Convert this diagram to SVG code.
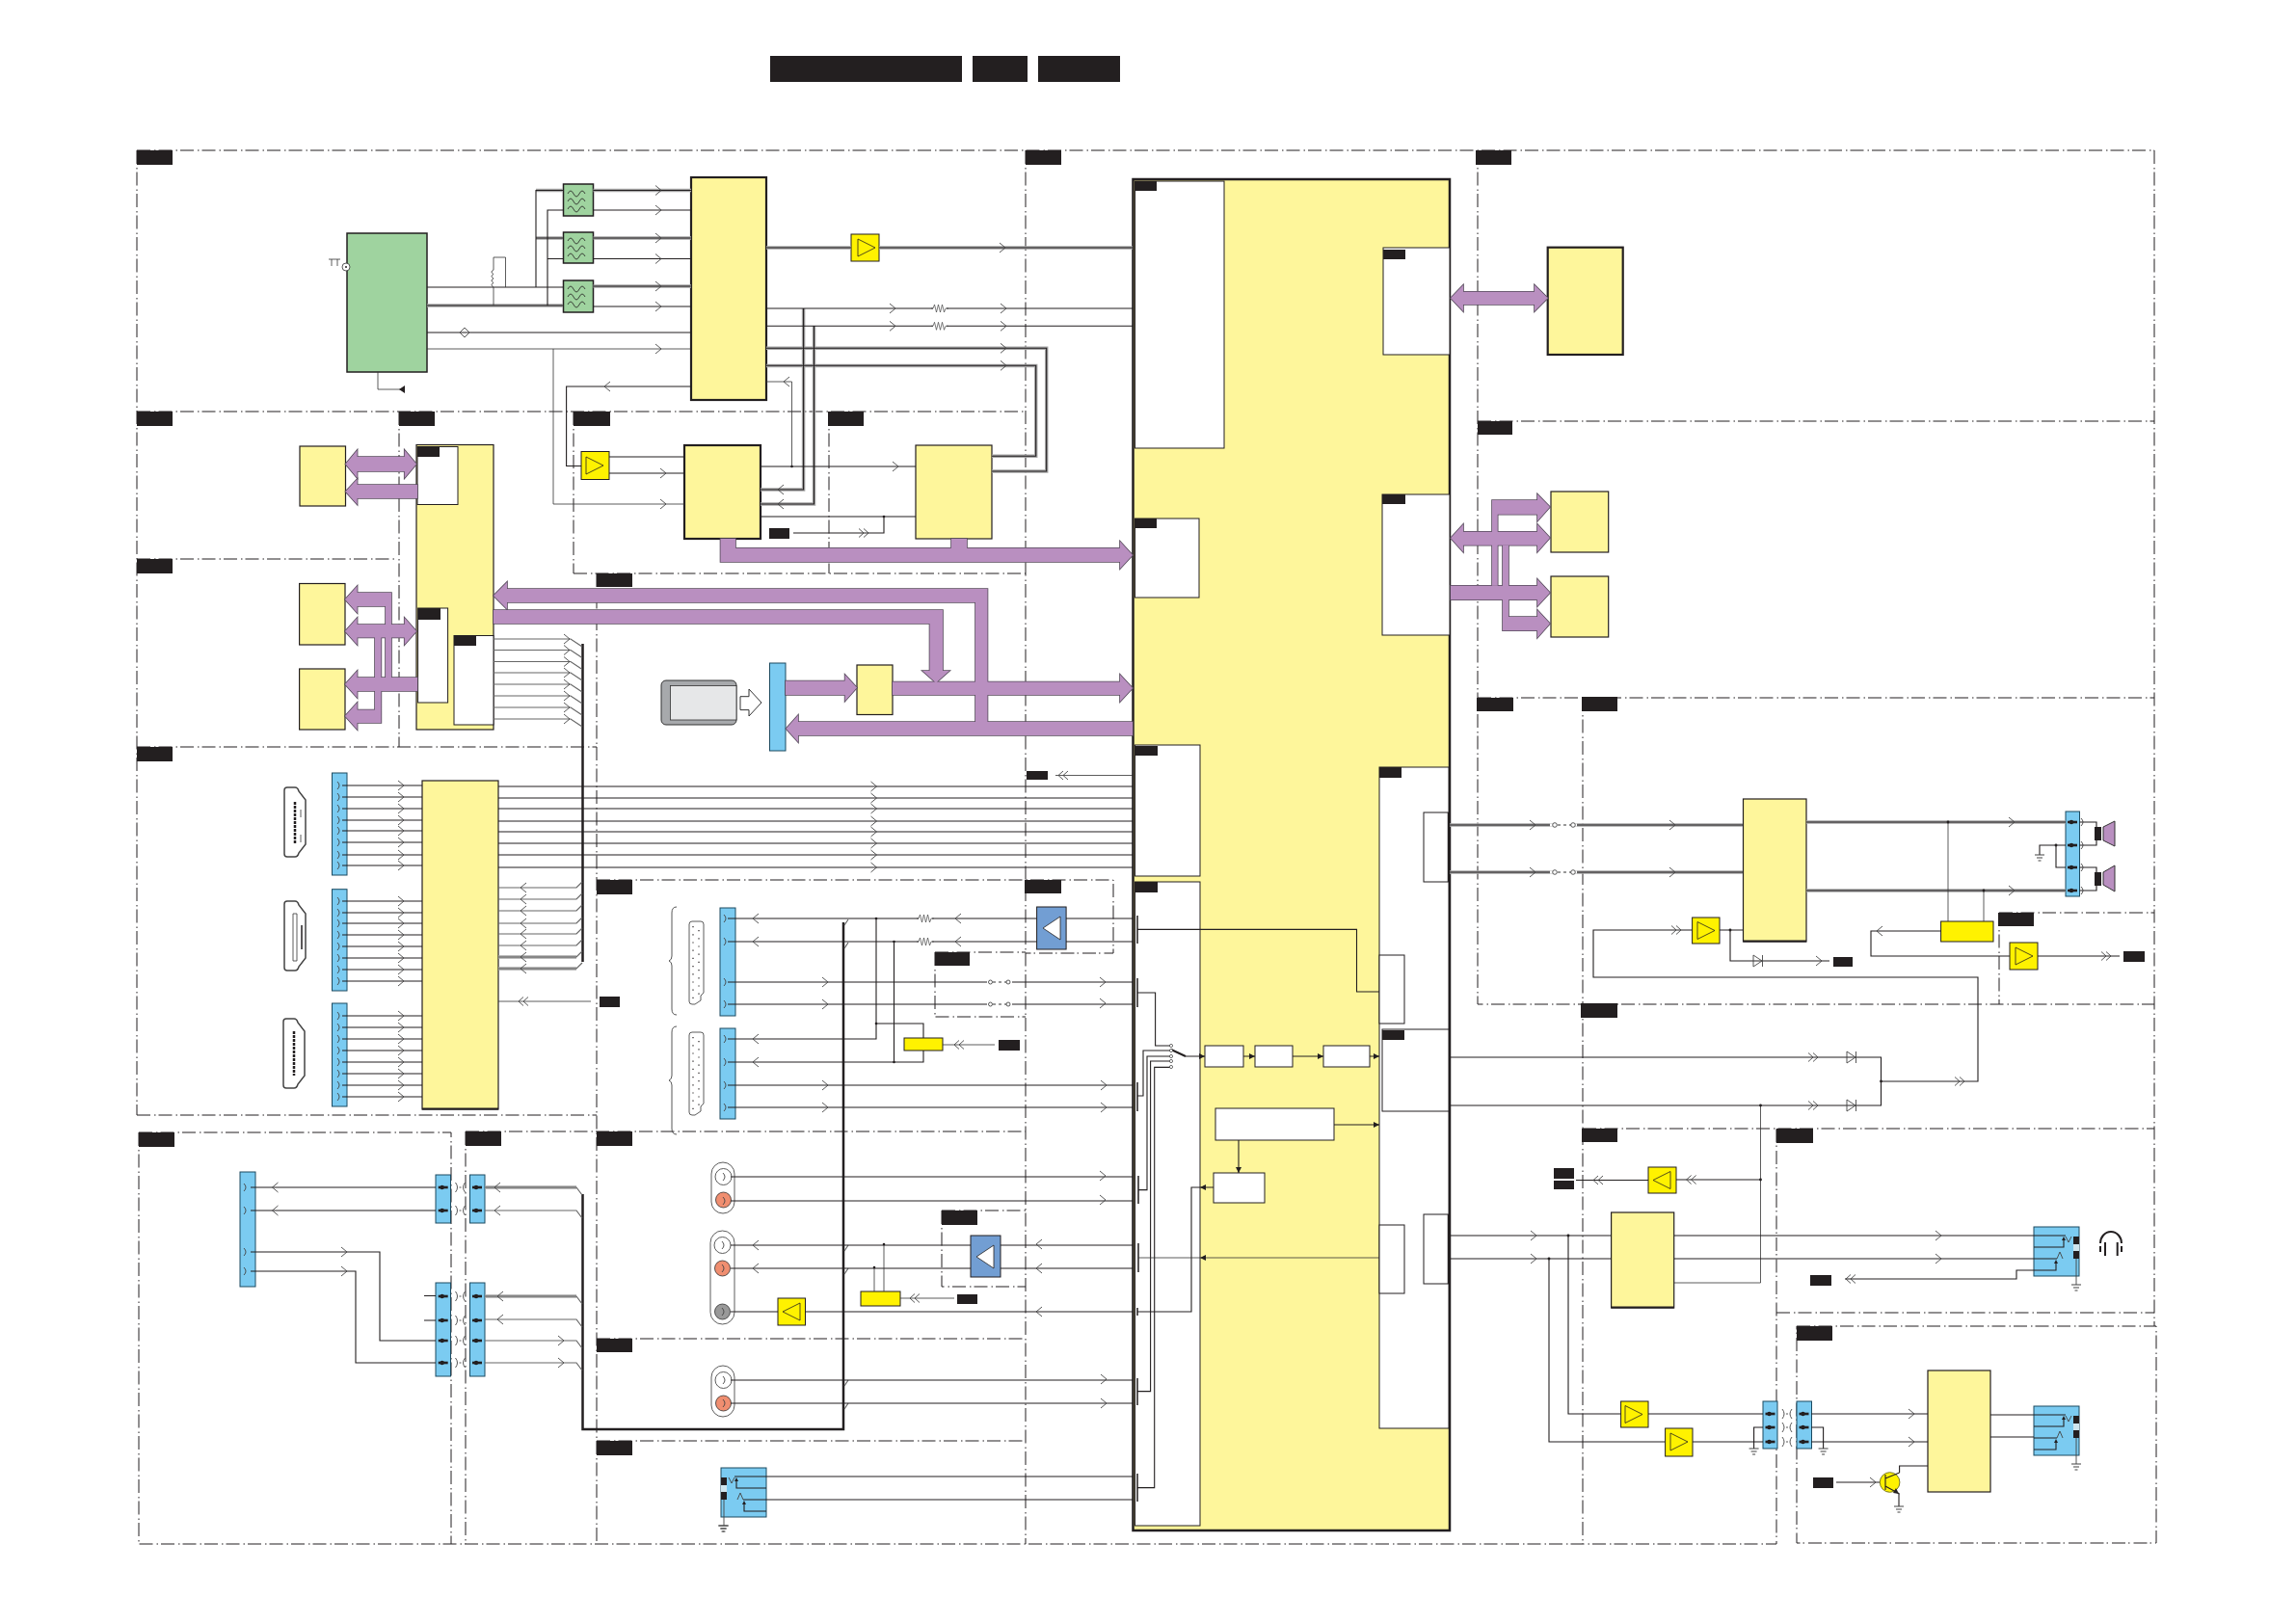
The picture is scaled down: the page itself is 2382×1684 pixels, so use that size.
<svg xmlns="http://www.w3.org/2000/svg" width="2382" height="1684" viewBox="0 0 2382 1684">
<style>
.fr{fill:none;stroke:#231f20;stroke-width:1;stroke-dasharray:14 4 1.5 3}
.l{fill:none;stroke:#231f20;stroke-width:1.1}
.t{fill:none;stroke:#333;stroke-width:.8}
.h{fill:none;stroke:#231f20;stroke-width:2.5}
.tk{fill:none;stroke:#231f20;stroke-width:1.5}
.d{fill:none;stroke:#666;stroke-width:1.2}
.gh{fill:none;stroke:#a6a6a6;stroke-width:3.500}
.k{fill:#231f20}
.y{fill:#fef69b;stroke:#231f20;stroke-width:1.2}
.yb{fill:#fef69b;stroke:#231f20;stroke-width:2.2}
.wb{fill:#fff;stroke:#231f20;stroke-width:1}
.gr{fill:#9fd39f;stroke:#231f20;stroke-width:1.5}
.bl{fill:#7bcbf1;stroke:#1c4a60;stroke-width:1}
.am{fill:#fff200;stroke:#231f20;stroke-width:1}
.ab{fill:#729ed3;stroke:#231f20;stroke-width:1}
.pu{fill:#b98fc0;stroke:#554a5a;stroke-width:1.6}
.pf{fill:#b98fc0;stroke:none}
.m{fill:none;stroke:#444;stroke-width:.9}
.dot{fill:#231f20}
</style>
<defs>
<path id="r" class="m" d="M-4-5L2 0L-4 5"/>
<path id="a" class="m" d="M4-5L-2 0L4 5"/>
<path id="rr" class="m" d="M-6-4.500L-1 0L-6 4.500M-1-4.500L4 0L-1 4.500"/>
<path id="aa" class="m" d="M6-4.500L1 0L6 4.500M1-4.500L-4 0L1 4.500"/>
<g id="res"><rect x="-7" y="-1.500" width="14" height="3" fill="#fff"/><path class="m" style="stroke-width:.7" d="M-9 0H-7L-5.500-4L-3.500 4L-1.500-4L.5 4L2.500-4L4.500 4L6 0H9"/></g>
<path id="dio" class="m" d="M-5-6L4 0L-5 6ZM4.500-6V6"/>
<path id="p" class="m" d="M-2-4Q2 0-2 4"/>
<path id="pa" class="m" d="M-5-5Q-1 0-5 5M5-5Q1 0 5 5M-1 0H1"/>
<g id="pd"><rect class="k" x="-5" y="-1.300" width="10" height="2.600"/><circle class="k" cx="-1" cy="0" r="2.200"/></g>
<path id="gnd" class="m" style="stroke-width:1.2" d="M-5 0H5M-3 3H3M-1.500 6H1.500"/>
<path id="tr" fill="none" stroke="#231f20" stroke-width=".8" d="M0 0L18 9L0 18Z"/>
<path id="tl" fill="none" stroke="#231f20" stroke-width=".8" d="M18 0L0 9L18 18Z"/>
<path id="twl" fill="#fff" stroke="#231f20" stroke-width=".8" d="M18 0L0 12L18 24Z"/>
<path id="wav" fill="none" stroke="#231f20" stroke-width=".8" d="M4 5q3-6 6 0t6 0t6 0M4 13q3-6 6 0t6 0t6 0M4 21q3-6 6 0t6 0t6 0"/>
<g id="hd"><path fill="#fff" stroke="#444" stroke-width="1.500" d="M3 0H11Q14 0 15 4L22 13V59L15 68Q14 72 11 72H3Q0 72 0 69V3Q0 0 3 0Z"/></g>
<g id="sc"><path fill="#fff" stroke="#333" stroke-width=".8" d="M3 0H12Q15 0 15 3V74L12 77V82L6 86H3Q0 86 0 83V3Q0 0 3 0Z"/><path fill="none" stroke="#231f20" stroke-width="1.200" stroke-dasharray="1.200 7" d="M4 5V82M10 9V78"/></g>
<path id="br" class="m" d="M8 0Q3 0 3 6V51Q3 55 0 56Q3 57 3 61V106Q3 112 8 112"/>
<g id="jk"><rect class="bl" x="0" y="0" width="47" height="51"/><rect class="k" x="41" y="10" width="6" height="8"/><rect fill="#cfe6ef" x="41" y="18" width="6" height="7"/><rect class="k" x="41" y="25" width="6" height="8"/><path class="l" d="M0 9H33M0 33H24M0 21H31V13M0 45H23V37"/><path class="k" d="M31 10L33 14H29ZM23 34L25 38H21Z"/><path class="m" d="M33 10L36 16L39 10M24 33L27 26L30 33M44 33V60"/><use href="#gnd" x="44" y="60"/></g>
<path id="rca" fill="none" stroke="#333" stroke-width=".8" d="M12 0A12 12 0 0 1 24 12V41A12 12 0 0 1 0 41V12A12 12 0 0 1 12 0Z"/>
</defs>

<g id="frames">
<path class="fr" d="M142 156H2235M142 156V1157M142 427H1064M142 580H410M414 427V775M142 775H619M142 1157H619M595 427V595M860 427V595M595 595H1064M619 595V1602M1064 156V1602M619 913H1155V989H1064M970 988H1064M970 988V1055H1064M144 1175H468V1602M483 1174H1064M483 1174V1602M619 1389H1064M619 1495H1064M977 1256H1064M977 1256V1335H1064M1533 156V1042H2235M1533 437H2235M1533 724H2235M1642 724V1602M1642 1171H2235M144 1175V1602H1843V1171M1843 1362H2235M1864 1376H2237V1601H1864ZM2235 156V1376M2074 947V1042M2074 947H2235"/>
</g>

<g id="titlebars" class="k">
<rect x="799" y="58" width="199" height="27"/><rect x="1009" y="58" width="57" height="27"/><rect x="1077" y="58" width="85" height="27"/>
</g>

<g id="nodes">
<g id="tuner"><rect class="gr" x="360" y="242" width="83" height="144"/><circle cx="359" cy="277" r="4" fill="#fff" stroke="#333" stroke-width=".8"/><circle class="dot" cx="359" cy="277" r="1"/><path class="t" d="M341 269H353M344 269V276M350 269V276"/></g>
<g id="filter1"><rect class="gr" x="584.500" y="191" width="31" height="33"/><use href="#wav" x="585" y="196"/></g>
<g id="filter2"><rect class="gr" x="584.500" y="241" width="31" height="32"/><use href="#wav" x="585" y="245"/></g>
<g id="filter3"><rect class="gr" x="584.500" y="291" width="31" height="33"/><use href="#wav" x="585" y="295"/></g>
<g id="if-chip"><rect class="yb" x="717" y="184" width="78" height="231"/></g>
<g id="amp1"><rect class="am" x="883" y="243" width="29" height="28"/><use href="#tr" x="890" y="248"/></g>
<g id="amp2"><rect class="am" x="603" y="468.500" width="29" height="29"/><use href="#tr" x="608" y="474"/></g>
<g id="dem1"><rect class="yb" x="710" y="462" width="79" height="97"/></g>
<g id="dem2"><rect class="y" x="950" y="462" width="79" height="97"/></g>
<g id="mem1"><rect class="y" x="311" y="463" width="47.500" height="62"/></g>
<g id="mem2"><rect class="y" x="310.600" y="605.500" width="47.400" height="63.500"/></g>
<g id="mem3"><rect class="y" x="310.600" y="694" width="47.400" height="63"/></g>
<g id="proc"><rect class="y" x="432" y="461.500" width="80" height="295.500"/>
<rect class="wb" x="433" y="463.500" width="42" height="60"/><rect class="wb" x="433.600" y="631" width="31" height="98"/><rect class="wb" x="471" y="659.500" width="41" height="92.500"/>
<rect class="k" x="433" y="463.500" width="23" height="10.500"/><rect class="k" x="434" y="631" width="23" height="12"/><rect class="k" x="471" y="659" width="23" height="11"/></g>
<g id="card"><rect x="686" y="706" width="78" height="46" rx="5" fill="#a7a9ac" stroke="#333"/><rect x="695.500" y="711.600" width="68.500" height="35.400" fill="#e6e7e8" stroke="#333" stroke-width=".8"/></g>
<path id="card-arrow" fill="#fff" stroke="#333" d="M768 722.700H777V715L790 729L777 743V736.600H768Z"/>
<g id="ci-bar"><rect class="bl" x="798.500" y="688" width="16.500" height="91"/></g>
<g id="ci-chip"><rect class="y" x="889" y="690" width="37" height="51.500"/></g>
<g id="hdmi-conn">
<use href="#hd" x="295" y="817"/><path stroke="#231f20" stroke-width="2.500" stroke-dasharray="3 1" d="M306 832V876"/><path class="t" d="M312 840V848M312 866V874"/>
<use href="#hd" x="295" y="935"/><path class="t" d="M304 948H308V997H304Z"/><path stroke="#231f20" stroke-width="1.500" d="M313 960V985"/>
<use href="#hd" x="294" y="1057"/><path stroke="#231f20" stroke-width="2.500" stroke-dasharray="3 1" d="M305 1070V1116"/>
<rect class="bl" x="344.500" y="802" width="15.500" height="106"/><rect class="bl" x="344.500" y="922.700" width="15.500" height="105.300"/><rect class="bl" x="344.500" y="1041" width="15.500" height="107"/></g>
<g id="hdmi-mux"><rect class="y" x="438" y="810" width="79" height="341"/><rect class="k" x="438" y="1149.500" width="79" height="2"/></g>
<g id="scart"><use href="#sc" x="715" y="956"/><use href="#sc" x="715" y="1071"/><use href="#br" x="694" y="941"/><use href="#br" x="694" y="1059" transform="translate(0 6)"/><rect class="bl" x="747" y="942" width="16" height="112"/><rect class="bl" x="747" y="1067" width="16" height="94"/></g>
<g id="sw1"><rect class="am" x="938" y="1077" width="40" height="13"/></g>
<g id="sw2"><rect class="am" x="893" y="1340" width="41" height="15"/></g>
<g id="sw3"><rect class="am" x="2013.600" y="956" width="54.400" height="21"/></g>
<g id="ampb1"><rect class="ab" x="1075.600" y="941" width="30.500" height="44"/><use href="#twl" x="1082" y="951"/></g>
<g id="ampb2"><rect class="ab" x="1007" y="1282" width="31" height="43"/><use href="#twl" x="1013" y="1292"/></g>
<g id="amp3"><rect class="am" x="807" y="1347" width="28.500" height="28"/><use href="#tl" x="812" y="1352"/></g>
<g id="rca-panel"><use href="#rca" x="738" y="1206"/><circle cx="750.500" cy="1221" r="8.500" fill="#fff" stroke="#333" stroke-width=".8"/><circle cx="750.500" cy="1245" r="8" fill="#f08e70" stroke="#333" stroke-width=".8"/>
<rect x="737" y="1277" width="25" height="97" rx="12.500" fill="none" stroke="#333" stroke-width=".8"/><circle cx="749.500" cy="1292" r="8.500" fill="#fff" stroke="#333" stroke-width=".8"/><circle cx="749.500" cy="1316" r="8" fill="#f08e70" stroke="#333" stroke-width=".8"/><circle cx="749.500" cy="1361" r="8" fill="#999" stroke="#333" stroke-width=".8"/>
<use href="#rca" x="738" y="1417"/><circle cx="750.500" cy="1432" r="8.500" fill="#fff" stroke="#333" stroke-width=".8"/><circle cx="750.500" cy="1456" r="8" fill="#f08e70" stroke="#333" stroke-width=".8"/></g>
<g id="av-jack"><use href="#jk" transform="translate(795 1523) scale(-1 1)"/></g>
<g id="side-conn"><rect class="bl" x="249" y="1216" width="16" height="119"/><rect class="bl" x="452" y="1219" width="15.500" height="50"/><rect class="bl" x="487.500" y="1219" width="15.500" height="50"/><rect class="bl" x="452" y="1331" width="15.500" height="97"/><rect class="bl" x="487.500" y="1331" width="15.500" height="97"/></g>
<g id="main-chip">
<rect x="1175.500" y="186" width="328.500" height="1402" fill="#fef69b" stroke="#231f20" stroke-width="2.500"/>
<rect class="wb" x="1177.500" y="188" width="92.500" height="277"/><rect class="wb" x="1177.500" y="538" width="66.500" height="82"/><rect class="wb" x="1177.500" y="773" width="67.500" height="136"/><rect class="wb" x="1177.500" y="915" width="67.500" height="668"/>
<rect class="wb" x="1435" y="257" width="69" height="111"/><rect class="wb" x="1434" y="513" width="70" height="146"/><rect class="wb" x="1431" y="796" width="72" height="686"/>
<rect class="wb" x="1477" y="843" width="26" height="72"/><rect class="wb" x="1431" y="991" width="26" height="71"/><rect class="wb" x="1434" y="1068" width="69" height="85"/><rect class="wb" x="1431" y="1271" width="26" height="71"/><rect class="wb" x="1477" y="1260" width="26" height="72"/>
<rect class="wb" x="1250" y="1085" width="40" height="22"/><rect class="wb" x="1302" y="1085" width="39" height="22"/><rect class="wb" x="1373" y="1085" width="48" height="22"/><rect class="wb" x="1261" y="1150" width="123" height="33"/><rect class="wb" x="1259" y="1217" width="53" height="31"/>
<path class="h" d="M1503 843V915M1503 1260V1332"/>
<g class="k"><rect x="1177" y="188" width="23" height="10"/><rect x="1177" y="538" width="23" height="10"/><rect x="1177" y="774" width="24" height="10"/><rect x="1177" y="915" width="24" height="11"/><rect x="1435" y="259" width="23" height="10"/><rect x="1434" y="513" width="24" height="10"/><rect x="1431" y="796" width="23" height="11"/><rect x="1434" y="1069" width="23" height="10"/></g></g>
<g id="flash"><rect class="yb" x="1605.700" y="256.700" width="78" height="111.300"/></g>
<g id="ddr1"><rect class="y" x="1609" y="510" width="59.700" height="63"/></g>
<g id="ddr2"><rect class="y" x="1609" y="598" width="59.700" height="63"/></g>
<g id="audio-amp"><rect class="y" x="1808.500" y="829" width="65.500" height="148"/><rect class="k" x="1808.500" y="975.500" width="65.500" height="2"/></g>
<g id="amp4"><rect class="am" x="1755.600" y="952" width="28.400" height="27"/><use href="#tr" x="1761" y="956.500"/></g>
<g id="amp5"><rect class="am" x="2085" y="978" width="29" height="28"/><use href="#tr" x="2091" y="983"/></g>
<g id="spk-conn"><rect class="bl" x="2143" y="842" width="14.500" height="88"/><rect class="k" x="2173" y="858" width="7" height="14"/><path fill="#b98fc0" stroke="#333" d="M2182 858L2194 852V878L2182 872Z"/><rect class="k" x="2173" y="905" width="7" height="14"/><path fill="#b98fc0" stroke="#333" d="M2182 905L2194 898V925L2182 918Z"/></g>
<g id="amp6"><rect class="am" x="1710" y="1211" width="29" height="27"/><use href="#tl" x="1715" y="1215.500"/></g>
<g id="hp-amp"><rect class="y" x="1671.600" y="1258" width="65.100" height="99"/><rect class="k" x="1671.600" y="1355.500" width="65.100" height="2"/></g>
<g id="amp7"><rect class="am" x="1681.600" y="1454" width="28.400" height="27"/><use href="#tr" x="1686" y="1458.500"/></g>
<g id="amp8"><rect class="am" x="1727.600" y="1482" width="28.400" height="29"/><use href="#tr" x="1733" y="1487"/></g>
<g id="hp-jack"><use href="#jk" x="2110" y="1273"/><path fill="none" stroke="#231f20" stroke-width="2" d="M2179 1290A11 12 0 0 1 2201 1290"/><path stroke="#231f20" stroke-width="2" d="M2179 1293V1299M2184 1289V1303M2196.700 1289V1303M2201 1293V1299"/></g>
<g id="aux-conn"><rect class="bl" x="1829" y="1454" width="15" height="49"/><rect class="bl" x="1864" y="1454" width="15.500" height="49"/></g>
<g id="aux-amp"><rect class="y" x="2000" y="1422" width="65" height="126"/></g>
<g id="aux-jack"><use href="#jk" x="2110" y="1459"/></g>
<g id="transistor"><circle cx="1960.600" cy="1538" r="10.300" fill="#fff200" stroke="#7a7a20"/><path class="l" d="M1956 1530V1546M1956 1534L1970.600 1528M1956 1542L1970.600 1550"/><path class="k" d="M1970 1550L1964 1549L1967 1544Z"/></g>
</g>

<g id="labels" class="k">
<rect x="142" y="156" width="37" height="15"/><rect x="1064" y="156" width="37" height="15"/><rect x="1531" y="156" width="37" height="15"/><rect x="1533" y="437" width="36" height="14"/><rect x="142" y="427" width="37" height="15"/><rect x="414" y="427" width="37" height="15"/><rect x="595" y="427" width="38" height="15"/><rect x="859" y="427" width="37" height="15"/><rect x="142" y="580" width="37" height="15"/><rect x="142" y="775" width="37" height="15"/><rect x="619" y="595" width="37" height="14"/><rect x="619" y="913" width="37" height="15"/><rect x="1063" y="913" width="38" height="14"/><rect x="970" y="988" width="36" height="14"/><rect x="144" y="1175" width="37" height="15"/><rect x="483" y="1174" width="37" height="15"/><rect x="619" y="1174" width="37" height="15"/><rect x="619" y="1389" width="37" height="14"/><rect x="619" y="1495" width="37" height="15"/><rect x="977" y="1256" width="37" height="15"/><rect x="1532" y="724" width="38" height="14"/><rect x="1641" y="723" width="37" height="15"/><rect x="1640" y="1041" width="38" height="15"/><rect x="1641" y="1171" width="37" height="14"/><rect x="1843" y="1171" width="38" height="15"/><rect x="1864" y="1376" width="37" height="15"/><rect x="2073" y="947" width="37" height="14"/>
<rect x="798" y="548" width="21" height="11"/><rect x="622" y="1034" width="21" height="11"/><rect x="1036" y="1079" width="22" height="11"/><rect x="993" y="1343" width="21" height="10"/><rect x="1065" y="800" width="22" height="9"/><rect x="1612" y="1212" width="21" height="11"/><rect x="1612" y="1225" width="21" height="9"/><rect x="1878" y="1323" width="22" height="11"/><rect x="1881" y="1533" width="21" height="11"/><rect x="1902" y="993" width="20" height="10"/><rect x="2203" y="987" width="22" height="11"/>
</g>

<g id="connectors">
<g id="buses">
<defs>
<g id="pur">
<path d="M358.500 481.500L370.600 467V474H419.700V467L432 481.500L419.700 496V489H370.600V496Z"/>
<path d="M358.500 510L370.600 497V503H433V517H370.600V523.500Z"/>
<path d="M358 655L370.600 641V648H419.700V641L432 655L419.700 669V661.500H370.600V669Z"/>
<path d="M358 622L370.600 608V615H406V704H400V629H370.600V636Z"/>
<path d="M358 710L370.600 696V703H433V717H370.600V724Z"/>
<path d="M358 743L370.600 729V736.500H389V661H395.400V750H370.600V757Z"/>
<path d="M512 618L526 604V611H1024.500V749H1175V763H828V770L815.500 756L828 742V749H1012V625H526V632Z"/>
<path d="M512 633H978V696H985L971 708.500L957 696H964.500V647H512Z"/>
<path d="M815 706.600H876.600V700L889 713.500L876.600 727.500V721H815Z"/>
<path d="M926 707.500H1162V700L1175 714L1162 728V721H926Z"/>
<path d="M747.500 559H763V568.700H987V559H1003V568.700H1162V561.700L1175 576L1162 590V583H747.500Z"/>
<path d="M1505 309.300L1518 295.700V302.700H1592V295.700L1605.700 309.300L1592 323V316H1518V323Z"/>
<path d="M1548 607.700V519H1595V512.700L1608 526L1595 540.700V533.700H1553.700V607.700Z"/>
<path d="M1505 558.300L1518 544V551.700H1595V544L1608 558L1595 572.700V565.700H1518V572.700Z"/>
<path d="M1505 607.700H1595V601L1608 615L1595 629V622.300H1505Z"/>
<path d="M1608 647L1595 633V640H1565V565.700H1559V654.300H1595V661.700Z"/>
</g>
</defs>
<use href="#pur" class="pu"/><use href="#pur" class="pf"/>
</g>

<path class="gh" d="M443 317H584M556 197.500H584M556 247H584M615.500 197.500H717M615.500 247H717M615.500 297H717M795 257H883M912 257H1175M795 379.500H1074.700V473.300H1029M795 361.300H1085.700V489H1029M789 508H833.600V320M789 523H844.500V338M598 993H517M598 1005H517M1504 856H1613M1632 856H1808M1504 905H1613M1632 905H1808M1874 853H2143M1874 924H2143M503 1232H598M503 1345H598"/>
<path class="l" d="M443 298H584M443 317H584M556 298V197.500H584.500M556 247H584.500M568 317V218H584.500M568 268.500H584.500M568 317H584M615.500 197.500H717M615.500 218H717M615.500 247H717M615.500 268.500H717M615.500 297H717M615.500 318H717M443 345H717M795 257H883M912 257H1175M795 320H1175M795 338.300H1175M795 361.300H1085.700V489H1029M795 379.300H1074.700V473.300H1029M717 401H587.600V483.500H603M632 474H710M632 491H710M789 484H950M789 536H950M917 536V553H823M789 508H833.600V320M789 523H844.500V338"/>
<path class="t" d="M443 362H717M574 362V523H710M524.500 267V298M512 267H524.500M512 267V280M512 298V317M795 396H821.500V484M392 386V404H420"/>
<path class="m" d="M512 280q-4 2 0 4.500q-4 2 0 4.500q-4 2 0 4.500q-4 2 0 4.500"/>
<path class="k" d="M414 404L420 400V408Z"/>
<path class="m" d="M477 345L482 340L487 345L482 350Z"/>

<use href="#r" x="684" y="197.500"/><use href="#r" x="684" y="218"/><use href="#r" x="684" y="247"/><use href="#r" x="684" y="268.500"/><use href="#r" x="684" y="297"/><use href="#r" x="684" y="318"/><use href="#r" x="684" y="362"/><use href="#r" x="1041" y="257"/>
<use href="#r" x="927" y="320"/><use href="#r" x="927" y="338.300"/><use href="#res" x="975" y="320"/><use href="#res" x="975" y="338.300"/><use href="#r" x="1042" y="320"/><use href="#r" x="1042" y="338.300"/><use href="#r" x="1042" y="361.300"/><use href="#r" x="1042" y="379.300"/>
<use href="#a" x="815" y="396"/><use href="#a" x="629" y="401"/><use href="#r" x="689" y="491"/><use href="#r" x="689" y="523"/><use href="#r" x="930" y="484"/><use href="#a" x="809" y="508"/><use href="#a" x="809" y="523"/><use href="#rr" x="897" y="553"/>
<circle class="dot" cx="821.500" cy="484" r="1.300"/><circle class="dot" cx="917" cy="536" r="1.300"/>

<g id="bus-wires">
<path class="h" d="M604.500 668V998M604.500 1239V1483H875V957"/>
<path class="d" d="M512 663H592L604 671M512 674.500H592L604 682.500M512 686.500H592L604 694.500M512 698H592L604 706M512 710H592L604 718M512 722H592L604 730M512 734H592L604 742M512 746H592L604 754M517 921H598L604 915M517 933H598L604 927M517 945H598L604 939M517 958H598L604 952M517 969H598L604 963M517 981H598L604 975M517 993H598L604 987M517 1005H598L604 999M503 1232H598L604 1240M503 1256H598L604 1264M503 1345H598L604 1353M503 1369H598L604 1377M503 1391H598L604 1399M503 1414H598L604 1422M876 960L880 954M876 984L880 978M876 1298L880 1292M876 1322L880 1316M876 1438L880 1432M876 1462L880 1456"/>
</g>
<use href="#r" x="589" y="663"/><use href="#r" x="589" y="674.500"/><use href="#r" x="589" y="686.500"/><use href="#r" x="589" y="698"/><use href="#r" x="589" y="710"/><use href="#r" x="589" y="722"/><use href="#r" x="589" y="734"/><use href="#r" x="589" y="746"/>

<g id="hdmi-wires">
<path class="l" d="M355 815H438M355 827H438M355 839H438M355 851H438M355 862H438M355 874H438M355 887H438M355 898H438M355 935H438M355 947H438M355 958H438M355 970H438M355 982H438M355 994H438M355 1006H438M355 1018H438M355 1054H438M355 1066H438M355 1078H438M355 1090H438M355 1102H438M355 1114H438M355 1126H438M355 1138H438M517 816H1175M517 828H1175M517 839H1175M517 852H1175M517 863H1175M517 875H1175M517 887H1175M517 900H1175"/>
<path class="t" d="M517 1039H613M1095 804.500H1175"/>
</g>
<g id="hdmi-marks">
<use href="#r" x="417" y="815"/><use href="#r" x="417" y="827"/><use href="#r" x="417" y="839"/><use href="#r" x="417" y="851"/><use href="#r" x="417" y="862"/><use href="#r" x="417" y="874"/><use href="#r" x="417" y="887"/><use href="#r" x="417" y="898"/>
<use href="#r" x="417" y="935"/><use href="#r" x="417" y="947"/><use href="#r" x="417" y="958"/><use href="#r" x="417" y="970"/><use href="#r" x="417" y="982"/><use href="#r" x="417" y="994"/><use href="#r" x="417" y="1006"/><use href="#r" x="417" y="1018"/>
<use href="#r" x="417" y="1054"/><use href="#r" x="417" y="1066"/><use href="#r" x="417" y="1078"/><use href="#r" x="417" y="1090"/><use href="#r" x="417" y="1102"/><use href="#r" x="417" y="1114"/><use href="#r" x="417" y="1126"/><use href="#r" x="417" y="1138"/>
<use href="#r" x="907.500" y="816"/><use href="#r" x="907.500" y="828"/><use href="#r" x="907.500" y="839"/><use href="#r" x="907.500" y="852"/><use href="#r" x="907.500" y="863"/><use href="#r" x="907.500" y="875"/><use href="#r" x="907.500" y="887"/><use href="#r" x="907.500" y="900"/>
<use href="#a" x="542" y="921"/><use href="#a" x="542" y="933"/><use href="#a" x="542" y="945"/><use href="#a" x="542" y="958"/><use href="#a" x="542" y="969"/><use href="#a" x="542" y="981"/><use href="#a" x="542" y="993"/><use href="#a" x="542" y="1005"/>
<use href="#aa" x="542" y="1039"/><use href="#aa" x="1102" y="804.500"/>
<use href="#p" x="352" y="815"/><use href="#p" x="352" y="827"/><use href="#p" x="352" y="839"/><use href="#p" x="352" y="851"/><use href="#p" x="352" y="862"/><use href="#p" x="352" y="874"/><use href="#p" x="352" y="887"/><use href="#p" x="352" y="898"/>
<use href="#p" x="352" y="935"/><use href="#p" x="352" y="947"/><use href="#p" x="352" y="958"/><use href="#p" x="352" y="970"/><use href="#p" x="352" y="982"/><use href="#p" x="352" y="994"/><use href="#p" x="352" y="1006"/><use href="#p" x="352" y="1018"/>
<use href="#p" x="352" y="1054"/><use href="#p" x="352" y="1066"/><use href="#p" x="352" y="1078"/><use href="#p" x="352" y="1090"/><use href="#p" x="352" y="1102"/><use href="#p" x="352" y="1114"/><use href="#p" x="352" y="1126"/><use href="#p" x="352" y="1138"/>
</g>

<g id="scart-wires">
<path class="l" d="M755 953H1075.600M1106 953H1175M755 977H1075.600M1106 977H1175M755 1019H1175M755 1042H1175M755 1078H909V953M909 1062H958V1077M755 1102H958V1090M927.500 977V1102M755 1126H1175M755 1149H1175M758 1221H1175M758 1246H1175M758 1292H1007M1038 1292H1175M758 1316H1007M1038 1316H1175M758 1361H807M835.500 1361H1175M758 1432H1175M758 1456H1175M795 1532H1175M795 1556H1175"/>
<path class="t" d="M978 1084H1032M934 1347H990M917 1291V1340M907 1315V1340"/>
<path d="M1024 1019H1050M1024 1042H1050" stroke="#fff" stroke-width="3"/>
<path d="M1030 1019H1044M1030 1042H1044" stroke="#333" stroke-width="1" stroke-dasharray="3 3"/>
<circle cx="1027.500" cy="1019" r="2" fill="#fff" stroke="#333" stroke-width=".8"/><circle cx="1046" cy="1019" r="2" fill="#fff" stroke="#333" stroke-width=".8"/><circle cx="1027.500" cy="1042" r="2" fill="#fff" stroke="#333" stroke-width=".8"/><circle cx="1046" cy="1042" r="2" fill="#fff" stroke="#333" stroke-width=".8"/>
<use href="#a" x="783" y="953"/><use href="#a" x="783" y="977"/><use href="#a" x="783" y="1078"/><use href="#a" x="783" y="1102"/><use href="#r" x="857" y="1019"/><use href="#r" x="857" y="1042"/><use href="#r" x="857" y="1126"/><use href="#r" x="857" y="1149"/>
<use href="#res" x="960" y="953"/><use href="#res" x="960" y="977"/><use href="#a" x="993" y="953"/><use href="#a" x="993" y="977"/><use href="#aa" x="994" y="1084"/><use href="#aa" x="948" y="1347"/>
<use href="#r" x="1145" y="1019"/><use href="#r" x="1145" y="1041"/><use href="#r" x="1146" y="1126"/><use href="#r" x="1146" y="1149"/><use href="#r" x="1145" y="1220"/><use href="#r" x="1145" y="1245"/><use href="#a" x="1077" y="1291"/><use href="#a" x="1077" y="1316"/><use href="#a" x="1077" y="1361"/><use href="#r" x="1146" y="1431"/><use href="#r" x="1146" y="1456"/>
<use href="#a" x="783" y="1292"/><use href="#a" x="783" y="1316"/>
<use href="#p" x="753" y="953"/><use href="#p" x="753" y="977"/><use href="#p" x="753" y="1019"/><use href="#p" x="753" y="1042"/><use href="#p" x="753" y="1078"/><use href="#p" x="753" y="1102"/><use href="#p" x="753" y="1126"/><use href="#p" x="753" y="1149"/>
<circle class="dot" cx="909" cy="953" r="1.300"/><circle class="dot" cx="927.500" cy="977" r="1.300"/><circle class="dot" cx="909" cy="1062" r="1.300"/><circle class="dot" cx="927.500" cy="1102" r="1.300"/><circle class="dot" cx="917" cy="1291" r="1.300"/><circle class="dot" cx="907" cy="1315" r="1.300"/>
<use href="#gnd" x="750" y="1583"/><use href="#p" x="752" y="1221"/><use href="#p" x="752" y="1246"/><use href="#p" x="751" y="1292"/><use href="#p" x="751" y="1316"/><use href="#p" x="751" y="1361"/><use href="#p" x="752" y="1432"/><use href="#p" x="752" y="1456"/>
</g>

<g id="side-wires">
<path class="l" d="M260 1232H452M260 1256H452M260 1299H394V1391H452M260 1319H369V1414H452M440 1344.500H452M440 1370H452"/>
<use href="#a" x="284.500" y="1232"/><use href="#a" x="284.500" y="1256"/><use href="#r" x="358" y="1299"/><use href="#r" x="358" y="1319"/>
<use href="#p" x="255" y="1232"/><use href="#p" x="255" y="1256"/><use href="#p" x="255" y="1299"/><use href="#p" x="255" y="1319"/>
<use href="#pd" x="459.700" y="1232"/><use href="#pd" x="459.700" y="1256"/><use href="#pd" x="459.700" y="1345"/><use href="#pd" x="459.700" y="1370"/><use href="#pd" x="459.700" y="1391"/><use href="#pd" x="459.700" y="1414"/>
<use href="#pd" x="495" y="1232"/><use href="#pd" x="495" y="1256"/><use href="#pd" x="495" y="1345"/><use href="#pd" x="495" y="1370"/><use href="#pd" x="495" y="1391"/><use href="#pd" x="495" y="1414"/>
<use href="#pa" x="477.500" y="1232"/><use href="#pa" x="477.500" y="1256"/><use href="#pa" x="477.500" y="1345"/><use href="#pa" x="477.500" y="1370"/><use href="#pa" x="477.500" y="1391"/><use href="#pa" x="477.500" y="1414"/>
<use href="#a" x="515" y="1232"/><use href="#a" x="515" y="1256"/><use href="#a" x="518" y="1345"/><use href="#a" x="518" y="1369"/><use href="#r" x="583" y="1391"/><use href="#r" x="583" y="1414"/>
</g>

<g id="chip-wires">
<path class="tk" d="M1180 950V979M1180 1015V1045M1180 1123V1153M1181 1220V1249M1181 1290V1320M1180 1357V1365M1180 1430V1458M1180 1529V1558"/>
<path class="l" d="M1180 964.400H1407.500V1029H1431M1180 1030H1198.600V1085H1215M1180 1137H1186V1090H1215M1181 1234.600H1190V1096H1215M1180 1443.600H1193.600V1101H1215M1180 1543.600H1197.700V1107.400H1215M1230 1096H1250M1290 1096H1302M1341 1096H1373M1421 1096H1431M1384 1167H1431M1285 1183V1217M1259 1232H1236V1361H1180"/>
<path class="t" d="M1431 1305H1181"/>
<path stroke="#231f20" stroke-width="2" d="M1215 1089L1230 1096"/>
<g fill="#fff" stroke="#333" stroke-width=".7"><circle cx="1215" cy="1085" r="1.600"/><circle cx="1215" cy="1090" r="1.600"/><circle cx="1215" cy="1096" r="1.600"/><circle cx="1215" cy="1101" r="1.600"/><circle cx="1215" cy="1107" r="1.600"/></g>
<g class="k"><path d="M1250 1096L1244 1093V1099ZM1302 1096L1296 1093V1099ZM1373 1096L1367 1093V1099ZM1431 1096L1425 1093V1099ZM1431 1167L1425 1164V1170ZM1285 1217L1282 1211H1288ZM1245 1232L1251 1229V1235ZM1245 1305L1251 1302V1308Z"/></g>
</g>

<g id="audio-wires">
<path class="l" d="M1504 856H1613M1632 856H1808.500M1504 905H1613M1632 905H1808.500M1874 853H2143M1874 924H2143M1504 1097H1951.500V1147H1504M1951.500 1122H2052V1014H1653V965H1755.600M1784 965H1808.500M1795 965V997H1898M2014 966H1941V992H2085M2114 992H2199M2157.500 853H2175V877H2157.500M2157.500 900H2175V924H2157.500M2143 877H2116V887M2133 877V900H2143"/>
<path class="t" d="M2021 853V956M2058 924V956M1826.500 1147V1331H1737"/>
<path class="l" d="M1504 1282H1671.600M1737 1282H2110M1504 1306H1671.600M1737 1306H2110M1627 1282V1467H1681.600M1607 1306V1496H1727.600M1710 1467H1829M1756 1496H1829M1739 1224H1826.500M1710 1224.500H1635M1879 1467H2000M1879 1496H2000M2065 1468H2110M2065 1491H2110M1829 1481H1819.600V1503M1879 1481H1891.600V1503M1914 1327H2092V1318H2110M1905 1538H1950M1970.600 1528V1521H2000M1970 1550V1563"/>
<use href="#gnd" x="2116" y="887"/><use href="#gnd" x="1819.600" y="1503"/><use href="#gnd" x="1891.600" y="1503"/><use href="#gnd" x="1970" y="1563"/>
<path d="M1608 856H1636M1608 905H1636" stroke="#fff" stroke-width="3"/>
<path d="M1616 856H1630M1616 905H1630" stroke="#333" stroke-width="1" stroke-dasharray="3 3"/>
<g fill="#fff" stroke="#333" stroke-width=".8"><circle cx="1613" cy="856" r="2.300"/><circle cx="1632" cy="856" r="2.300"/><circle cx="1613" cy="905" r="2.300"/><circle cx="1632" cy="905" r="2.300"/></g>
<use href="#r" x="1591" y="856"/><use href="#r" x="1591" y="905"/><use href="#r" x="1736" y="856"/><use href="#r" x="1736" y="905"/><use href="#r" x="2088" y="853"/><use href="#r" x="2088" y="924"/>
<use href="#rr" x="1882" y="1097"/><use href="#rr" x="1882" y="1147"/><use href="#dio" x="1921" y="1097"/><use href="#dio" x="1921" y="1147"/><use href="#rr" x="2034" y="1122"/><use href="#rr" x="1740" y="965"/><use href="#dio" x="1824" y="997"/><use href="#r" x="1888" y="997"/><use href="#a" x="1949" y="966"/><use href="#rr" x="2186" y="992"/>
<use href="#aa" x="1753.600" y="1224"/><use href="#aa" x="1657" y="1224.500"/><use href="#r" x="1592" y="1282"/><use href="#r" x="1592" y="1306"/><use href="#r" x="2012" y="1282"/><use href="#r" x="2012" y="1306"/><use href="#r" x="1984" y="1467"/><use href="#r" x="1984" y="1496"/><use href="#aa" x="1919" y="1327"/><use href="#r" x="1944" y="1538"/>
<use href="#pd" x="2150" y="853"/><use href="#pd" x="2150" y="877"/><use href="#pd" x="2150" y="900"/><use href="#pd" x="2150" y="924"/><use href="#p" x="2161" y="853"/><use href="#p" x="2161" y="877"/><use href="#p" x="2161" y="900"/><use href="#p" x="2161" y="924"/>
<use href="#pd" x="1836.500" y="1467"/><use href="#pd" x="1836.500" y="1481"/><use href="#pd" x="1836.500" y="1496"/><use href="#pd" x="1871.500" y="1467"/><use href="#pd" x="1871.500" y="1481"/><use href="#pd" x="1871.500" y="1496"/><use href="#pa" x="1854" y="1467"/><use href="#pa" x="1854" y="1481"/><use href="#pa" x="1854" y="1496"/>
<g class="dot"><circle cx="2021" cy="853" r="1.400"/><circle cx="2058" cy="924" r="1.400"/><circle cx="2133" cy="877" r="1.400"/><circle cx="1795" cy="965" r="1.400"/><circle cx="1951.500" cy="1122" r="1.400"/><circle cx="1826.500" cy="1147" r="1.400"/><circle cx="1826.500" cy="1224" r="1.400"/><circle cx="1627" cy="1282" r="1.400"/><circle cx="1607" cy="1306" r="1.400"/></g>
</g>
</g>
</svg>
